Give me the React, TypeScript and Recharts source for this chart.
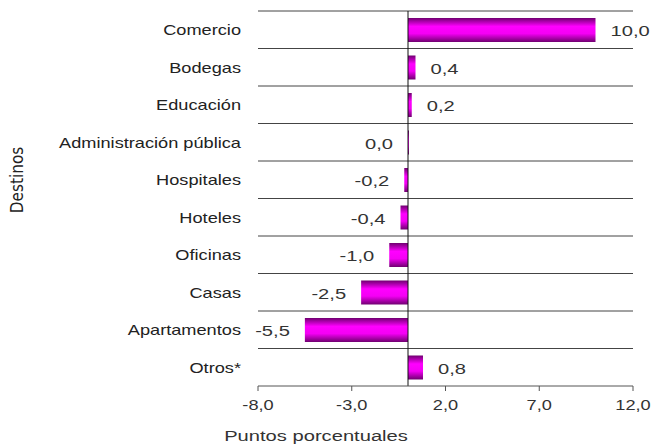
import {
  Bar,
  BarChart,
  CartesianGrid,
  Label,
  LabelList,
  ReferenceLine,
  XAxis,
  YAxis,
} from "recharts";

const CATEGORIES = [
  "Comercio",
  "Bodegas",
  "Educación",
  "Administración pública",
  "Hospitales",
  "Hoteles",
  "Oficinas",
  "Casas",
  "Apartamentos",
  "Otros*",
];

const VALUES = [10.0, 0.4, 0.2, 0.0, -0.2, -0.4, -1.0, -2.5, -5.5, 0.8];

const X_TICKS = [-8, -3, 2, 7, 12];

const fmt = (v: number) => v.toFixed(1).replace(".", ",");

const data = CATEGORIES.map((name, i) => ({
  name,
  value: VALUES[i],
  label: fmt(VALUES[i]),
}));

const FONT = "'Liberation Sans', Arial, sans-serif";
const SX = 1.3; // text in the original is stretched horizontally

function Wide({ x, y, anchor, size, fill = "#333", children }: any) {
  return (
    <text
      transform={`translate(${x},${y}) scale(${SX},1)`}
      textAnchor={anchor}
      dominantBaseline="middle"
      fill={fill}
      fontSize={size}
      fontFamily={FONT}
    >
      {children}
    </text>
  );
}

function ValueLabel(props: any) {
  const { x, y, width, height, value } = props;
  const s = String(value);
  const neg = s.startsWith("-") || s === "0,0";
  const left = Math.min(x, x + width);
  const right = Math.max(x, x + width);
  return (
    <Wide x={neg ? left - 15 : right + 15} y={y + height / 2 + 2} anchor={neg ? "end" : "start"} size={15.5}>
      {s}
    </Wide>
  );
}

function CatTick({ x, y, payload }: any) {
  return (
    <Wide x={x} y={y + 2} anchor="end" size={14} fill="#222">
      {payload.value}
    </Wide>
  );
}

function NumTick({ x, y, payload }: any) {
  return (
    <Wide x={x} y={y + 9} anchor="middle" size={14}>
      {fmt(payload.value)}
    </Wide>
  );
}

export default function App() {
  return (
    <div style={{ position: "absolute", left: 0, top: 0, background: "#fff" }}>
      <BarChart
        width={654}
        height={445}
        data={data}
        layout="vertical"
        margin={{ top: 11, right: 21, bottom: 0, left: 0 }}
        barCategoryGap={0}
      >
        <defs>
          <linearGradient id="barGrad" x1="0" y1="0" x2="0" y2="1">
            <stop offset="0%" stopColor="#700070" />
            <stop offset="35%" stopColor="#ff00ff" />
            <stop offset="65%" stopColor="#f400f4" />
            <stop offset="100%" stopColor="#700070" />
          </linearGradient>
        </defs>
        <CartesianGrid
          vertical={false}
          stroke="#444"
          horizontalCoordinatesGenerator={({ offset }: any) =>
            CATEGORIES.map((_, i) => offset.top + (i * offset.height) / CATEGORIES.length)
          }
        />
        <XAxis
          type="number"
          domain={[-8, 12]}
          ticks={X_TICKS}
          height={59}
          stroke="#555"
          tickSize={5}
          tickMargin={6}
          tick={<NumTick />}
        >
          <Label
            content={({ viewBox }: any) => (
              <Wide x={316} y={viewBox.y + 51} anchor="middle" size={15.5}>
                Puntos porcentuales
              </Wide>
            )}
          />
        </XAxis>
        <YAxis
          type="category"
          dataKey="name"
          width={258}
          axisLine={false}
          tickLine={false}
          tickSize={6}
          tickMargin={11}
          tick={<CatTick />}
        >
          <Label
            content={() => (
              <text
                x={0}
                y={0}
                transform="translate(23,180) rotate(-90)"
                textAnchor="middle"
                fill="#222"
                fontSize={17}
                fontFamily="'Liberation Sans Narrow', 'DejaVu Sans Condensed', sans-serif"
              >
                Destinos
              </text>
            )}
          />
        </YAxis>
        <Bar
          dataKey="value"
          fill="url(#barGrad)"
          barSize={24}
          minPointSize={1}
          isAnimationActive={false}
        >
          <LabelList dataKey="label" content={<ValueLabel />} />
        </Bar>
        <ReferenceLine x={0} stroke="#111" strokeWidth={1} />
      </BarChart>
    </div>
  );
}
